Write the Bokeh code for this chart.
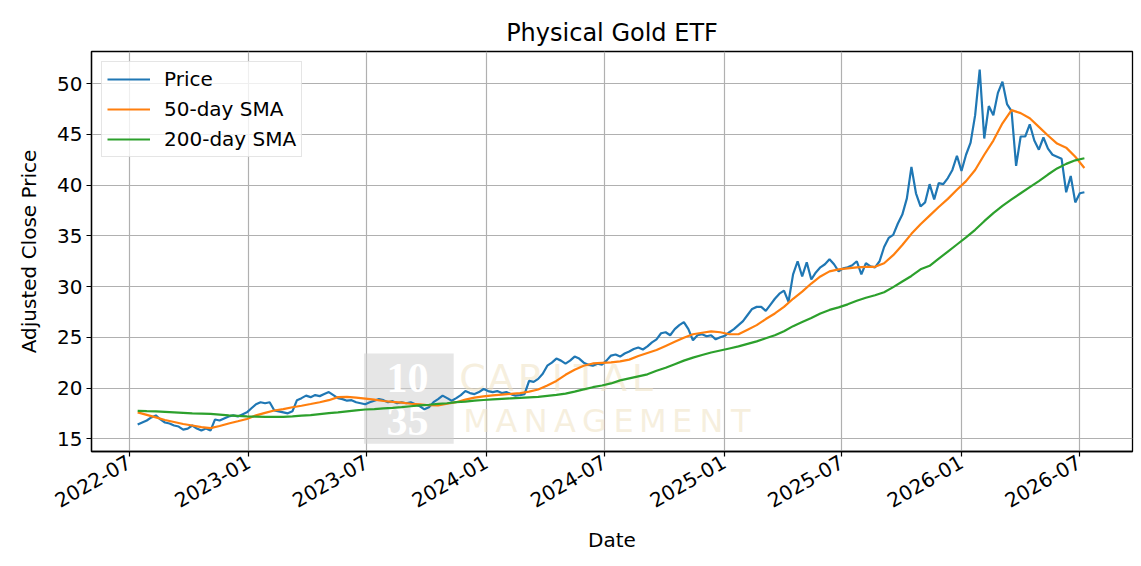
import math
import pandas as pd
from bokeh.plotting import figure
from bokeh.models import (Range1d, FixedTicker, DatetimeTickFormatter, Legend,
                          LegendItem, BoxAnnotation)
from bokeh.core.properties import value
from bokeh.embed import file_html
from bokeh.resources import INLINE

# ---------------- data ----------------
title = "Physical Gold ETF"
x_label = "Date"
y_label = "Adjusted Close Price"
series_names = ["Price", "50-day SMA", "200-day SMA"]
series_colors = ["#1f77b4", "#ff7f0e", "#2ca02c"]

price_start = "2022-07-14"   # weekly observations
price = [
    16.4, 16.6, 16.8, 17.1, 17.3, 16.9, 16.6, 16.5, 16.3, 16.2,
    15.9, 16.0, 16.3, 16.0, 15.8, 16.0, 15.8, 16.9, 16.8, 17.0,
    17.2, 17.3, 17.2, 17.4, 17.6, 18.0, 18.4, 18.6, 18.5, 18.6,
    17.8, 17.7, 17.6, 17.5, 17.7, 18.8, 19.0, 19.25, 19.1, 19.3,
    19.2, 19.4, 19.6, 19.3, 19.0, 18.9, 18.75, 18.8, 18.6, 18.5,
    18.4, 18.6, 18.75, 18.9, 18.8, 18.6, 18.7, 18.5, 18.6, 18.5,
    18.6, 18.4, 18.2, 17.9, 18.1, 18.6, 18.9, 19.25, 19.0, 18.75,
    19.0, 19.3, 19.7, 19.5, 19.4, 19.6, 19.9, 19.7, 19.6, 19.7,
    19.5, 19.6, 19.4, 19.25, 19.3, 19.4, 20.7, 20.6, 20.9, 21.4,
    22.2, 22.5, 22.9, 22.7, 22.4, 22.7, 23.1, 22.9, 22.5, 22.3,
    22.2, 22.4, 22.3, 22.7, 23.2, 23.3, 23.1, 23.4, 23.6, 23.85,
    24.0, 23.8, 24.1, 24.5, 24.8, 25.4, 25.5, 25.2, 25.8, 26.2,
    26.5, 25.8, 24.7, 25.2, 25.3, 25.1, 25.2, 24.8, 25.0, 25.15,
    25.5, 25.8, 26.2, 26.6, 27.2, 27.8, 28.0, 28.0, 27.6, 28.2,
    28.8, 29.3, 29.6, 28.5, 31.2, 32.5, 31.0, 32.4, 30.7, 31.4,
    31.9, 32.2, 32.7, 32.2, 31.5, 31.8, 31.9, 32.1, 32.5, 31.2,
    32.3, 32.0, 31.9, 32.5, 33.9, 34.8, 35.1, 36.2, 37.1, 38.7,
    41.8, 39.2, 37.9, 38.3, 40.1, 38.6, 40.2, 40.1, 40.7, 41.5,
    42.9, 41.4, 43.0, 44.2, 46.9, 51.4, 44.6, 47.8, 46.9, 49.1,
    50.2, 48.0, 47.3, 41.9, 44.8, 44.8, 46.0, 44.4, 43.5, 44.7,
    43.6, 43.0, 42.8, 42.6, 39.3, 40.9, 38.3, 39.2, 39.3,
]

sma_start = "2022-07-14"     # every two weeks
sma50 = [
    17.6, 17.35, 17.1, 16.85, 16.65, 16.45, 16.3, 16.15, 16.05, 16.25,
    16.5, 16.72, 16.95, 17.3, 17.55, 17.78, 17.92, 18.1, 18.25, 18.42,
    18.6, 18.8, 19.1, 19.12, 19.05, 18.95, 18.85, 18.72, 18.63, 18.55,
    18.45, 18.38, 18.3, 18.28, 18.45, 18.6, 18.85, 19.05, 19.18, 19.28,
    19.35, 19.42, 19.5, 19.65, 19.85, 20.25, 20.7, 21.3, 21.8, 22.2,
    22.42, 22.47, 22.52, 22.62, 22.8, 23.15, 23.45, 23.75, 24.15, 24.55,
    24.95, 25.3, 25.45, 25.58, 25.5, 25.3, 25.3, 25.75, 26.2, 26.8,
    27.35, 28.0, 28.8, 29.5, 30.3, 31.0, 31.5, 31.7, 31.8, 31.9,
    31.95, 31.95, 32.3, 33.1, 34.1, 35.2, 36.15, 37.0, 37.85, 38.65,
    39.55, 40.4, 41.5, 43.0, 44.4, 46.1, 47.4, 47.1, 46.6, 45.75,
    44.9, 44.1, 43.7, 42.8, 41.7,
]
sma200 = [
    17.75, 17.72, 17.7, 17.65, 17.6, 17.55, 17.5, 17.48, 17.45, 17.38,
    17.3, 17.25, 17.2, 17.18, 17.16, 17.15, 17.15, 17.2, 17.27, 17.33,
    17.43, 17.52, 17.6, 17.7, 17.8, 17.88, 17.92, 18.0, 18.05, 18.12,
    18.2, 18.28, 18.35, 18.43, 18.5, 18.6, 18.66, 18.75, 18.82, 18.88,
    18.93, 18.98, 19.02, 19.07, 19.12, 19.22, 19.32, 19.45, 19.65, 19.87,
    20.08, 20.25, 20.45, 20.75, 20.95, 21.15, 21.35, 21.7, 22.0, 22.35,
    22.7, 23.0, 23.25, 23.5, 23.7, 23.9, 24.1, 24.35, 24.6, 24.9,
    25.2, 25.6, 26.1, 26.5, 26.9, 27.35, 27.7, 27.95, 28.25, 28.6,
    28.9, 29.15, 29.45, 29.95, 30.5, 31.05, 31.7, 32.05, 32.75, 33.45,
    34.15, 34.85, 35.6, 36.45, 37.25, 37.95, 38.6, 39.2, 39.8, 40.4,
    41.05, 41.65, 42.1, 42.45, 42.65,
]

x_tick_labels = ["2022-07", "2023-01", "2023-07", "2024-01", "2024-07",
                 "2025-01", "2025-07", "2026-01", "2026-07"]
y_ticks = [15, 20, 25, 30, 35, 40, 45, 50]

x_start, x_end = "2022-05-04", "2026-09-21"
y_start, y_end = 13.74, 53.18

# ---------------- build ----------------
def ms(d):
    return pd.Timestamp(d).value / 1e6

price_dates = pd.date_range(price_start, periods=len(price), freq="7D")
sma_dates = pd.date_range(sma_start, periods=len(sma50), freq="14D")

FONT = "DejaVu Sans"
LABEL_SIZE = "20px"

p = figure(width=1141, height=566, output_backend="svg", toolbar_location=None,
           x_axis_type="datetime",
           x_range=Range1d(ms(x_start), ms(x_end)),
           y_range=Range1d(y_start, y_end),
           min_border_left=91, min_border_right=9, min_border_top=51,
           min_border_bottom=115)

p.title.text = title
p.title.align = "center"
p.title.text_font = FONT
p.title.text_font_size = "24px"
p.title.text_font_style = "normal"
p.title.text_color = "black"

p.outline_line_color = "black"
p.outline_line_width = 1.3
p.background_fill_color = "white"
p.border_fill_color = "white"

p.xaxis.ticker = FixedTicker(ticks=[ms(t + "-01") for t in x_tick_labels])
fmt = "%Y-%m"
p.xaxis.formatter = DatetimeTickFormatter(days=fmt, months=fmt, years=fmt,
                                          hours=fmt, minutes=fmt)
p.xaxis.major_label_orientation = math.pi / 6
p.yaxis.ticker = FixedTicker(ticks=y_ticks)

for ax in (p.xaxis[0], p.yaxis[0]):
    ax.axis_line_color = "black"
    ax.axis_line_width = 1.3
    ax.major_tick_line_color = "black"
    ax.major_tick_line_width = 1.2
    ax.major_tick_out = 5
    ax.major_tick_in = 0
    ax.minor_tick_line_color = None
    ax.major_label_text_font = FONT
    ax.major_label_text_font_size = LABEL_SIZE
    ax.major_label_text_color = "black"
    ax.axis_label_text_font = FONT
    ax.axis_label_text_font_size = LABEL_SIZE
    ax.axis_label_text_font_style = "normal"
    ax.axis_label_text_color = "black"
    ax.major_label_standoff = 4

p.xaxis.axis_label = x_label
p.yaxis.axis_label = y_label
p.xaxis.axis_label_standoff = 11
p.yaxis.axis_label_standoff = 13

p.grid.grid_line_color = "#b0b0b0"
p.grid.grid_line_width = 1.2

# watermark (decoration)
wm_box = BoxAnnotation(left=ms("2023-06-27"), right=ms("2023-11-12"),
                       bottom=14.5, top=23.4, fill_color="#d2d2d2",
                       fill_alpha=0.55, line_color=None, level="underlay")
p.add_layout(wm_box)
wm_cx = ms("2023-09-02")
p.text(x=[wm_cx, wm_cx], y=[21.0, 16.7], text=["10", "35"],
       text_font=value("Liberation Serif"), text_font_style="bold",
       text_font_size="42px", text_color="white", text_align="center",
       text_baseline="middle")
w1 = list("CAPITAL")
p.text(x=[ms("2023-12-11")] * len(w1), y=[21.0] * len(w1), text=w1,
       x_offset=[i * 28.3 for i in range(len(w1))],
       text_font=value(FONT), text_font_size="38px", text_color="#efe2c2",
       text_alpha=0.55, text_align="center", text_baseline="middle")
w2 = list("MANAGEMENT")
p.text(x=[ms("2023-12-18")] * len(w2), y=[16.73] * len(w2), text=w2,
       x_offset=[i * 29.3 for i in range(len(w2))],
       text_font=value(FONT), text_font_size="32px", text_color="#efe2c2",
       text_alpha=0.55, text_align="center", text_baseline="middle")

r_price = p.line(price_dates, price, line_color=series_colors[0], line_width=2.2)
r_50 = p.line(sma_dates, sma50, line_color=series_colors[1], line_width=2.2)
r_200 = p.line(sma_dates, sma200, line_color=series_colors[2], line_width=2.2)

legend = Legend(items=[LegendItem(label=series_names[0], renderers=[r_price]),
                       LegendItem(label=series_names[1], renderers=[r_50]),
                       LegendItem(label=series_names[2], renderers=[r_200])],
                location="top_left")
legend.label_text_font = FONT
legend.label_text_font_size = LABEL_SIZE
legend.label_text_color = "black"
legend.glyph_width = 43
legend.glyph_height = 20
legend.label_height = 20
legend.spacing = 6
legend.padding = 5
legend.margin = 10
legend.label_standoff = 14
legend.border_line_color = "#cccccc"
legend.border_line_width = 1
legend.background_fill_alpha = 0.8
p.add_layout(legend)

open("out.html", "w").write(file_html(p, INLINE))
